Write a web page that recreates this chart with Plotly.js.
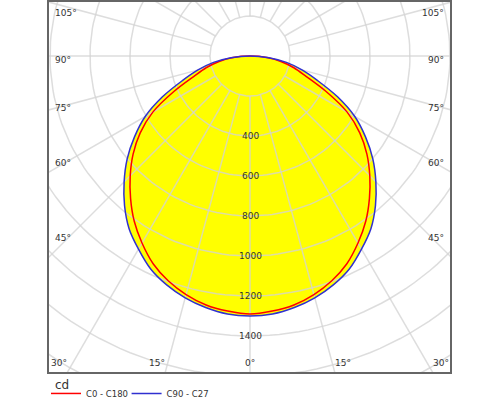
<!DOCTYPE html>
<html>
<head>
<meta charset="utf-8">
<script src="https://cdn.plot.ly/plotly-3.0.1.min.js"></script>
<style>html,body{margin:0;padding:0;background:#fff;}#chart{width:500px;height:400px;}</style>
</head>
<body>
<div id="chart"></div>
<script>
// Gamma angles (degrees from nadir) and luminous intensity (cd)
const gamma = [0,5,10,15,20,25,30,35,40,45,50,55,60,65,70,75,80,85,90];
const intensityC0C180 = [1290,1280,1264,1235,1196,1146,1080,1009,929,847,763,670,561,420,300,227,157,85,0];
const intensityC90C270 = [1300,1295,1277,1252,1218,1175,1115,1054,976,890,802,705,605,483,360,269,185,95,0];
const seriesNames = ['C0 - C180', 'C90 - C27'];
const radialTicks = [400,600,800,1000,1200,1400];
const gridRadii = [200,400,600,800,1000,1200,1400,1600,1800,2000,2200];
const sideAngleLabels = [45,60,75,90,105];
const bottomAngleLabels = [0,15,30];
const unitLabel = 'cd';

const RAD = Math.PI/180;
function curve(vals){
  const x=[], y=[];
  for(let i=gamma.length-1;i>=0;i--){ x.push(-vals[i]*Math.sin(gamma[i]*RAD)); y.push(-vals[i]*Math.cos(gamma[i]*RAD)); }
  for(let i=1;i<gamma.length;i++){ x.push(vals[i]*Math.sin(gamma[i]*RAD)); y.push(-vals[i]*Math.cos(gamma[i]*RAD)); }
  return {x,y};
}
const cRed = curve(intensityC0C180);
const cBlue = curve(intensityC90C270);

const gx=[], gy=[];
gridRadii.forEach(r=>{
  for(let a=0;a<=360;a+=2){ gx.push(r*Math.sin(a*RAD)); gy.push(-r*Math.cos(a*RAD)); }
  gx.push(null); gy.push(null);
});
for(let a=0;a<360;a+=15){
  const r0=gridRadii[0], r1=gridRadii[gridRadii.length-1];
  gx.push(r0*Math.sin(a*RAD), r1*Math.sin(a*RAD), null);
  gy.push(-r0*Math.cos(a*RAD), -r1*Math.cos(a*RAD), null);
}

const smooth = {shape:'spline', smoothing:1};
const traces = [
  {x:cBlue.x, y:cBlue.y, mode:'lines', fill:'toself', fillcolor:'#ffff00', line:Object.assign({width:0,color:'rgba(0,0,0,0)'},smooth), showlegend:false, hoverinfo:'skip'},
  {x:cRed.x, y:cRed.y, mode:'lines', fill:'toself', fillcolor:'#ffff00', line:Object.assign({width:0,color:'rgba(0,0,0,0)'},smooth), showlegend:false, hoverinfo:'skip'},
  {x:gx, y:gy, mode:'lines', line:{color:'rgba(212,212,212,0.78)', width:1.5}, showlegend:false, hoverinfo:'skip', connectgaps:false},
  {x:cRed.x, y:cRed.y, mode:'lines', name:seriesNames[0], line:Object.assign({color:'#ff0000', width:1.5},smooth), legend:'legend'},
  {x:cBlue.x, y:cBlue.y, mode:'lines', name:seriesNames[1], line:Object.assign({color:'#3030d0', width:1.5},smooth), legend:'legend2'}
];

const font = {family:'DejaVu Sans, sans-serif', size:9, color:'#333'};
const legendFont = {family:'DejaVu Sans, sans-serif', size:8.5, color:'#333'};
const annotations = [];
radialTicks.forEach(r=>annotations.push({x:0, y:-r, xref:'x', yref:'y', text:String(r), showarrow:false, font:font, xanchor:'center', yanchor:'middle'}));
sideAngleLabels.forEach(a=>{
  const yy = -890/Math.tan(a*RAD) - 22;
  annotations.push({x:-985, y:yy, xref:'x', yref:'y', text:a+'°', showarrow:false, font:font, xanchor:'left', yanchor:'middle'});
  annotations.push({x:980, y:yy, xref:'x', yref:'y', text:a+'°', showarrow:false, font:font, xanchor:'right', yanchor:'middle'});
});
bottomAngleLabels.forEach(a=>{
  const xx = 1585*Math.tan(a*RAD) - 10;
  if(a===0){
    annotations.push({x:0, y:-1535, xref:'x', yref:'y', text:a+'°', showarrow:false, font:font, xanchor:'center', yanchor:'middle'});
  } else {
    annotations.push({x:-xx, y:-1535, xref:'x', yref:'y', text:a+'°', showarrow:false, font:font, xanchor:'right', yanchor:'middle'});
    annotations.push({x:xx, y:-1535, xref:'x', yref:'y', text:a+'°', showarrow:false, font:font, xanchor:'left', yanchor:'middle'});
  }
});
annotations.push({x:0.012, y:-0.032, xref:'paper', yref:'paper', text:unitLabel, showarrow:false, font:{family:'DejaVu Sans, sans-serif', size:12, color:'#333'}, xanchor:'left', yanchor:'middle'});

const legendBase = {orientation:'h', xanchor:'left', yanchor:'top', font:legendFont, bgcolor:'rgba(0,0,0,0)', itemwidth:30, tracegroupgap:0};
const layout = {
  width:500, height:400,
  margin:{l:48, r:49, t:1, b:27, autoexpand:false},
  paper_bgcolor:'#fff', plot_bgcolor:'#fff',
  xaxis:{range:[-1010,1005], showgrid:false, zeroline:false, showticklabels:false, ticks:'', fixedrange:true},
  yaxis:{range:[-1585,275], showgrid:false, zeroline:false, showticklabels:false, ticks:'', fixedrange:true},
  showlegend:true,
  legend:Object.assign({x:-0.005, y:-0.016}, legendBase),
  legend2:Object.assign({x:0.195, y:-0.016}, legendBase),
  shapes:[{type:'rect', xref:'paper', yref:'paper', x0:0, x1:1, y0:0, y1:1, line:{color:'#666', width:2}, layer:'above'}],
  annotations:annotations
};
Plotly.newPlot('chart', traces, layout, {displayModeBar:false, staticPlot:true});
</script>
</body>
</html>
